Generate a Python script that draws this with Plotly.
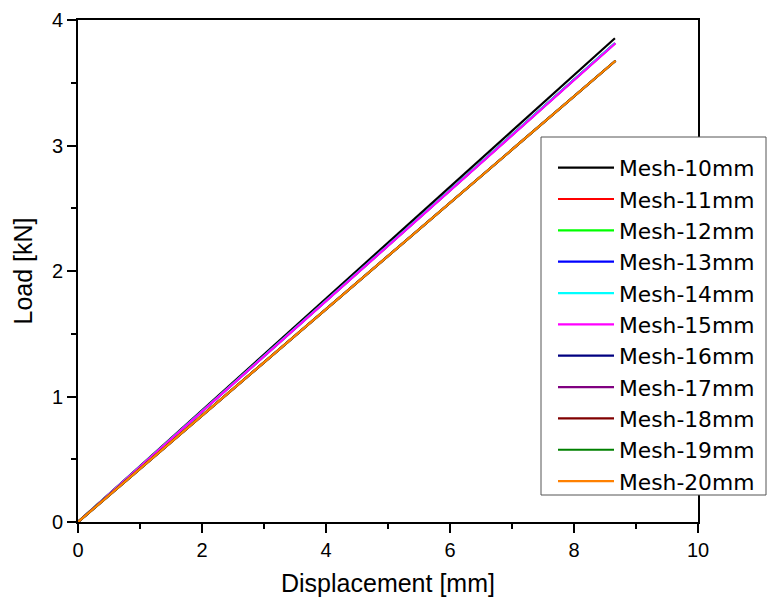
import plotly.graph_objects as go

series_names = ["Mesh-10mm", "Mesh-11mm", "Mesh-12mm", "Mesh-13mm", "Mesh-14mm",
                "Mesh-15mm", "Mesh-16mm", "Mesh-17mm", "Mesh-18mm", "Mesh-19mm", "Mesh-20mm"]
series_colors = ["#000000", "#ff0000", "#00ff00", "#0000ff", "#00ffff",
                 "#ff00ff", "#000080", "#800080", "#800000", "#008000", "#ff8000"]
end_displacement = [8.66, 8.66, 8.66, 8.66, 8.66, 8.67, 8.67, 8.67, 8.67, 8.67, 8.67]
end_load = [3.855, 3.815, 3.815, 3.815, 3.815, 3.815, 3.675, 3.675, 3.675, 3.675, 3.675]

fig = go.Figure()
for name, color, xd, yl in zip(series_names, series_colors, end_displacement, end_load):
    fig.add_trace(go.Scatter(x=[0, xd], y=[0, yl], mode="lines", name=name,
                             line=dict(color=color, width=2.2)))

axis_common = dict(showline=True, linecolor="black", linewidth=1.6, mirror=True,
                   ticks="outside", ticklen=9, tickwidth=1.6, tickcolor="black",
                   showgrid=False, zeroline=False,
                   tickfont=dict(size=20, color="black"))

# legend frame (decorative box behind the legend)
fig.add_shape(type="rect", xref="paper", yref="paper",
              x0=(541 - 78) / 620, x1=(766 - 78) / 620,
              y0=(522 - 495) / 502, y1=(522 - 137) / 502,
              line=dict(color="#555555", width=1), fillcolor="white", layer="above")

fig.update_layout(
    width=768, height=604,
    margin=dict(l=78, r=70, t=20, b=82, autoexpand=False),
    paper_bgcolor="white", plot_bgcolor="white",
    font=dict(family="Liberation Sans, Arial, sans-serif", color="black"),
    xaxis=dict(range=[0, 10], dtick=2, title=dict(text="Displacement [mm]", font=dict(size=25), standoff=15),
               minor=dict(dtick=1, ticks="outside", ticklen=5, tickwidth=1.6, tickcolor="black"),
               **axis_common),
    yaxis=dict(range=[0, 4], dtick=1, title=dict(text="Load [kN]", font=dict(size=25), standoff=12),
               minor=dict(dtick=0.5, ticks="outside", ticklen=5, tickwidth=1.6, tickcolor="black"),
               **axis_common),
    legend=dict(x=(553 - 78) / 620, y=(522 - 147) / 502, xanchor="left", yanchor="top",
                bgcolor="rgba(0,0,0,0)", borderwidth=0,
                font=dict(size=21.8, color="black", family="DejaVu Sans, sans-serif"),
                itemwidth=56, tracegroupgap=0),
)

fig.write_html("out.html", config={"displayModeBar": False},
               post_script="document.body.style.margin='0';document.body.style.padding='0';")
